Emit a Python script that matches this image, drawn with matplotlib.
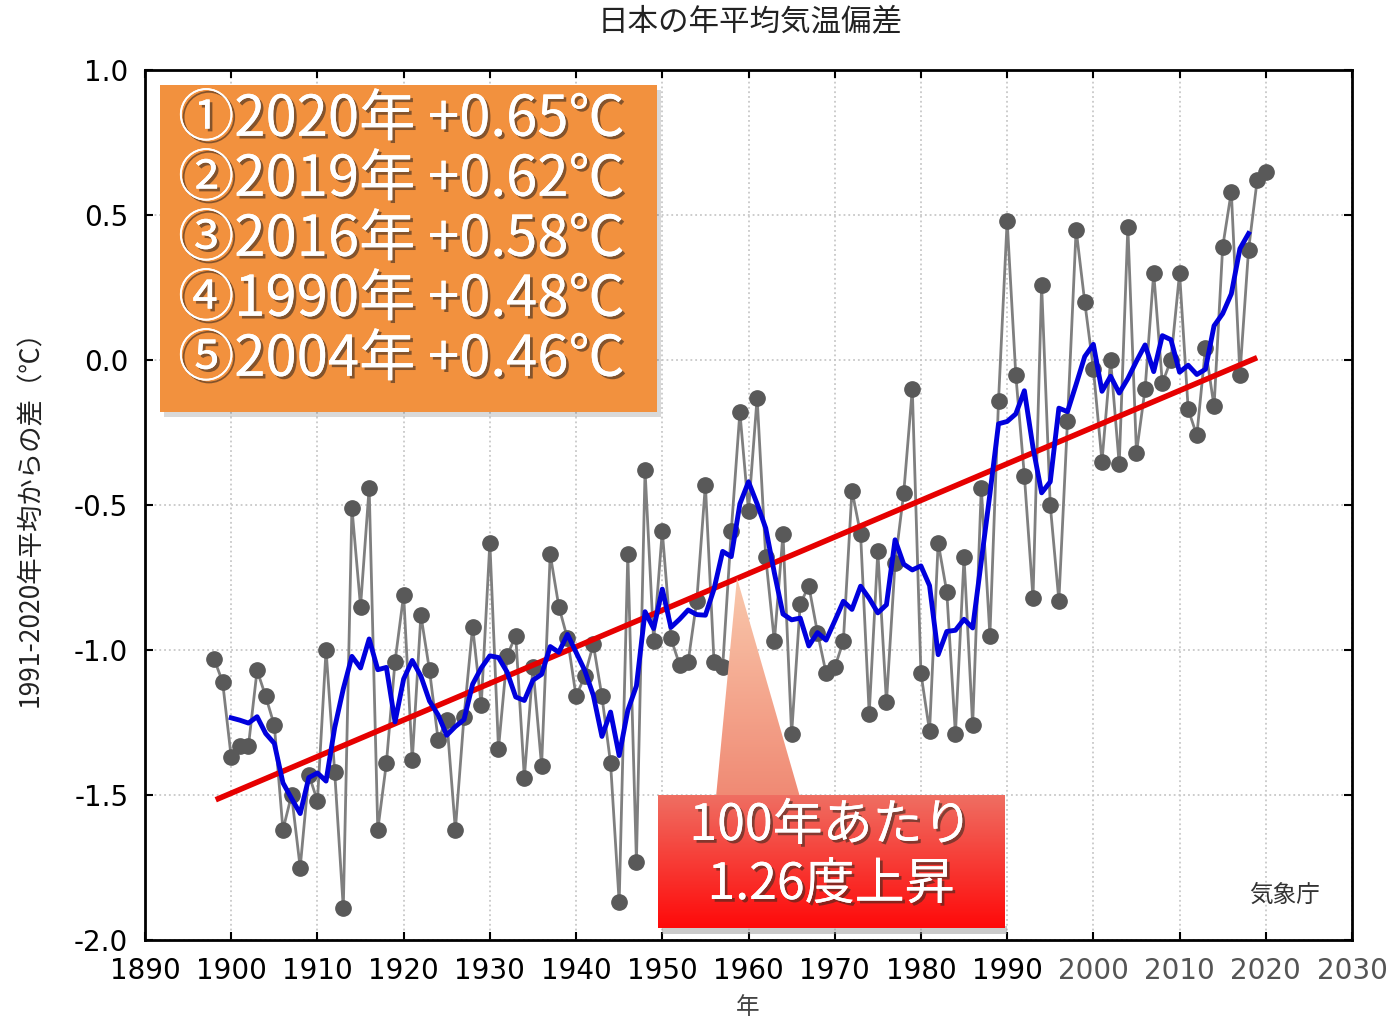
import numpy as np
import matplotlib
matplotlib.use("Agg")
import matplotlib.pyplot as plt
import matplotlib.patheffects as pe
from matplotlib.patches import Rectangle, Polygon
from matplotlib.colors import LinearSegmentedColormap
from matplotlib.ticker import FormatStrFormatter

plt.rcParams['font.family'] = ['Noto Sans CJK JP', 'DejaVu Sans']
plt.rcParams['axes.unicode_minus'] = False

# annual mean temperature anomaly of Japan (deg C, vs 1991-2020 mean)
years = np.arange(1898, 2021)
anomaly = [
    -1.03, -1.11, -1.37, -1.33, -1.33, -1.07, -1.16, -1.26, -1.62, -1.50,   # 1898-1907
    -1.75, -1.43, -1.52, -1.00, -1.42, -1.89, -0.51, -0.85, -0.44, -1.62,   # 1908-1917
    -1.39, -1.04, -0.81, -1.38, -0.88, -1.07, -1.31, -1.24, -1.62, -1.23,   # 1918-1927
    -0.92, -1.19, -0.63, -1.34, -1.02, -0.95, -1.44, -1.06, -1.40, -0.67,   # 1928-1937
    -0.85, -0.96, -1.16, -1.09, -0.98, -1.16, -1.39, -1.87, -0.67, -1.73,   # 1938-1947
    -0.38, -0.97, -0.59, -0.96, -1.05, -1.04, -0.83, -0.43, -1.04, -1.06,   # 1948-1957
    -0.59, -0.18, -0.52, -0.13, -0.68, -0.97, -0.60, -1.29, -0.84, -0.78,   # 1958-1967
    -0.94, -1.08, -1.06, -0.97, -0.45, -0.60, -1.22, -0.66, -1.18, -0.70,   # 1968-1977
    -0.46, -0.10, -1.08, -1.28, -0.63, -0.80, -1.29, -0.68, -1.26, -0.44,   # 1978-1987
    -0.95, -0.14, 0.48, -0.05, -0.40, -0.82, 0.26, -0.50, -0.83, -0.21,     # 1988-1997
    0.45, 0.20, -0.03, -0.35, 0.00, -0.36, 0.46, -0.32, -0.10, 0.30,        # 1998-2007
    -0.08, 0.00, 0.30, -0.17, -0.26, 0.04, -0.16, 0.39, 0.58, -0.05,        # 2008-2017
    0.38, 0.62, 0.65,                                                       # 2018-2020
]
anomaly = np.array(anomaly)

ranking = ["①2020年 +0.65℃", "②2019年 +0.62℃", "③2016年 +0.58℃",
           "④1990年 +0.48℃", "⑤2004年 +0.46℃"]
trend_text = ["100年あたり", "1.26度上昇"]

x_ticks = list(range(1890, 2031, 10))
y_ticks = [-2.0, -1.5, -1.0, -0.5, 0.0, 0.5, 1.0]

# 5-year running mean and linear trend
run5 = np.convolve(anomaly, np.ones(5) / 5, mode='valid')
run_years = years[2:-2]
coef = np.polyfit(years, anomaly, 1)
trend_years = np.array([years[0] + 0.5, years[-1] - 1.3])
trend = np.polyval(coef, trend_years)

W, H = 1391, 1022
fig = plt.figure(figsize=(W / 100, H / 100), dpi=100)
ax = fig.add_axes([145 / W, 1 - 940 / H, (1352 - 145) / W, (940 - 70) / H])

ax.plot(years, anomaly, color='#7f7f7f', lw=2, marker='o', ms=11,
        mfc='#595959', mec='#595959', zorder=2)
ax.plot(trend_years, trend, color='#e60000', lw=4, zorder=3)
ax.plot(run_years, run5, color='#0000dd', lw=3.5, zorder=4)

ax.set_xlim(1890, 2030)
ax.set_ylim(-2.0, 1.0)
ax.set_xticks(x_ticks)
ax.set_yticks(y_ticks)
ax.yaxis.set_major_formatter(FormatStrFormatter('%.1f'))
ax.grid(True, color='#c8c8c8', linestyle=':', linewidth=1.3)
ax.tick_params(direction='in', length=6, width=1.5, top=True, right=True,
               labelsize=20, pad=12)
for lab in ax.get_xticklabels() + ax.get_yticklabels():
    lab.set_fontfamily('DejaVu Sans')
for lab, yr in zip(ax.get_xticklabels(), x_ticks):
    if yr >= 2000:
        lab.set_color('#555555')
for s in ax.spines.values():
    s.set_linewidth(2)

fig.text(750 / W, 1 - 22 / H, '日本の年平均気温偏差', ha='center', va='center',
         fontsize=22, color='#222222')
fig.text(30 / W, 1 - 512 / H, '1991-2020年平均からの差（℃）', rotation=90,
         ha='center', va='center', fontsize=19, color='#222222')
fig.text(748 / W, 1 - 1008 / H, '年', ha='center', va='center', fontsize=17,
         color='#444444')
fig.text(1285 / W, 1 - 895 / H, '気象庁', ha='center', va='center', fontsize=17,
         color='#333333')

# overlay in pixel coordinates for the annotation boxes
ov = fig.add_axes([0, 0, 1, 1], zorder=5)
ov.axis('off')

shadow = [pe.withSimplePatchShadow(offset=(2, -2), shadow_rgbFace='#3a2a20', alpha=0.6),
          pe.Normal()]

ov.add_patch(Rectangle((164, 90), 497, 327, color='#000000', alpha=0.15, lw=0))
ov.add_patch(Rectangle((160, 85), 497, 327, color='#f2913e', lw=0))
for i, line in enumerate(ranking):
    ov.text(178, 120 + 60 * i, line, ha='left', va='center', fontsize=40.5,
            color='white', path_effects=shadow)

# callout pointer and box with gradients
grad = np.linspace(0, 1, 100)[:, None]
tri = Polygon([(737, 578), (716, 797), (800, 797)], closed=True, fc='none', ec='none')
ov.add_patch(tri)
cm_tri = LinearSegmentedColormap.from_list('tri', ['#f9c8ac', '#f08a74'])
im = ov.imshow(grad, cmap=cm_tri, extent=(716, 800, 797, 578), aspect='auto', zorder=1)
im.set_clip_path(tri)

ov.add_patch(Rectangle((662, 926), 345, 8, color='#999999', alpha=0.5, lw=0))
cm_box = LinearSegmentedColormap.from_list('box', ['#ef6e62', '#ff0a0a'])
ov.imshow(grad, cmap=cm_box, extent=(658, 1005, 928, 795), aspect='auto', zorder=2)
ov.text(831, 826, trend_text[0], ha='center', va='center', fontsize=36,
        color='white', path_effects=shadow, zorder=3)
ov.text(831, 885, trend_text[1], ha='center', va='center', fontsize=36,
        color='white', path_effects=shadow, zorder=3)
ov.set_xlim(0, W)
ov.set_ylim(H, 0)

fig.savefig('out.png', dpi=100)
